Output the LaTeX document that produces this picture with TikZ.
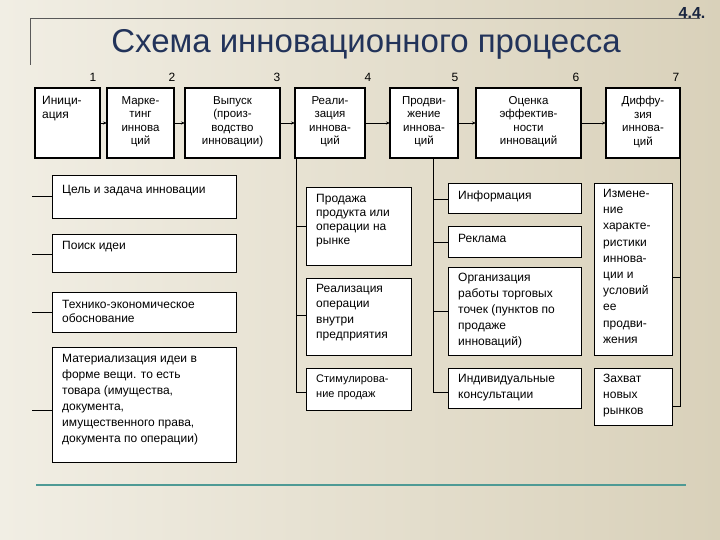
\documentclass[tikz,border=0pt]{standalone}
\usepackage{fontspec}
\setmainfont{Liberation Sans}
\usetikzlibrary{arrows.meta}
\definecolor{bgl}{HTML}{F1EEE4}
\definecolor{bgr}{HTML}{D9D1BA}
\definecolor{teal}{HTML}{4E9A95}
\definecolor{ttl}{HTML}{22335A}
\tikzset{
 box/.style={draw=black,fill=white,line width=0.8pt,inner sep=0pt,outer sep=0pt,anchor=north west},
 topbox/.style={box,line width=1.6pt},
 txt/.style={font=\fontsize{12}{14}\selectfont,inner sep=0pt,anchor=north west,align=left},
 ctxt/.style={font=\fontsize{11.5}{13.5}\selectfont,inner sep=0pt,align=center},
 num/.style={font=\fontsize{12}{14}\selectfont,inner sep=0pt},
 conn/.style={line width=0.6pt},
 arr/.style={line width=0.8pt,-{Stealth[length=4pt,width=3pt]}}
}
\newcommand{\bx}[6][box]{\node[#1,minimum width={(#5-#3)*1pt},minimum height={(#6-#4)*1pt}] (#2) at (#3,#4) {};}
\begin{document}
\begin{tikzpicture}[x=1pt,y=-1pt]
\shade[left color=bgl,right color=bgr] (0,0) rectangle (720,540);
\useasboundingbox (0,0) rectangle (720,540);
% frame
\draw[gray!70!black,line width=0.8pt] (30,65) -- (30,18) -- (700,18);
\node[font=\fontsize{33}{36}\selectfont,text=ttl] (title) at (366,44) {Схема инновационного процесса};
\node[font=\bfseries\fontsize{16}{18}\selectfont,text=ttl!70!black] (sec) at (692,13) {4.4.};
% top boxes
\bx[topbox]{b1}{35}{88}{100}{158}
\bx[topbox]{b2}{107}{88}{174}{158}
\bx[topbox]{b3}{185}{88}{280}{158}
\bx[topbox]{b4}{295}{88}{365}{158}
\bx[topbox]{b5}{390}{88}{458}{158}
\bx[topbox]{b6}{476}{88}{581}{158}
\bx[topbox]{b7}{606}{88}{680}{158}
\node[txt] (t1) at (42,96) {Иници-\\ация};
\node[ctxt,anchor=north] (t2) at (140.5,96) {Марке-\\тинг\\иннова\\ций};
\node[ctxt,anchor=north] (t3) at (232.5,96) {Выпуск\\(произ-\\водство\\инновации)};
\node[ctxt,anchor=north] (t4) at (330,96) {Реали-\\зация\\иннова-\\ций};
\node[ctxt,anchor=north] (t5) at (424,96) {Продви-\\жение\\иннова-\\ций};
\node[ctxt,anchor=north] (t6) at (528.5,96) {Оценка\\эффектив-\\ности\\инноваций};
\node[ctxt,anchor=north] (t7) at (643,96) {Диффу-\\зия\\иннова-\\ций};
\node[num] (n1) at (93,77) {1};
\node[num] (n2) at (172,77) {2};
\node[num] (n3) at (277,77) {3};
\node[num] (n4) at (368,77) {4};
\node[num] (n5) at (455,77) {5};
\node[num] (n6) at (576,77) {6};
\node[num] (n7) at (676,77) {7};
\draw[arr] (b1) -- (b2);
\draw[arr] (b2) -- (b3);
\draw[arr] (b3) -- (b4);
\draw[arr] (b4) -- (b5);
\draw[arr] (b5) -- (b6);
\draw[arr] (b6) -- (b7);
% left column
\bx{a}{52}{175}{236}{218}
\bx{b}{52}{234}{236}{272}
\bx{c}{52}{292}{236}{332}
\bx{d}{52}{347}{236}{462}
\node[txt] (ta) at (62,185) {Цель и задача инновации};
\node[txt] (tb) at (62,241) {Поиск идеи};
\node[txt] (tc) at (62,300) {Технико-экономическое\\обоснование};
\node[txt,font=\fontsize{12}{16}\selectfont] (td) at (62,354) {Материализация идеи в\\форме вещи. то есть\\товара (имущества,\\документа,\\имущественного права,\\документа по операции)};
\foreach \n/\y in {a/196,b/254,c/312,d/410}{
 \coordinate (s\n) at (32,\y);
 \draw[conn] (s\n) -- (s\n -| \n.west);
}
% column 4
\bx{e}{306}{187}{411}{265}
\bx{f}{306}{278}{411}{355}
\bx{g}{306}{368}{411}{410}
\node[txt] (te) at (316,194) {Продажа\\продукта или\\операции на\\рынке};
\node[txt,font=\fontsize{12}{15.5}\selectfont] (tf) at (316,284) {Реализация\\операции\\внутри\\предприятия};
\node[txt,font=\fontsize{11}{15}\selectfont] (tg) at (316,375) {Стимулирова-\\ние продаж};
\coordinate (v4) at (296,158);
\draw[conn] (v4) -- (v4 |- 0,392) -- (g.west |- 0,392);
\draw[conn] (v4 |- 0,226) -- (e.west |- 0,226);
\draw[conn] (v4 |- 0,315) -- (f.west |- 0,315);
% column 5
\bx{h}{448}{183}{581}{213}
\bx{i}{448}{226}{581}{257}
\bx{j}{448}{267}{581}{355}
\bx{k}{448}{368}{581}{408}
\node[txt] (th) at (458,191) {Информация};
\node[txt] (ti) at (458,234) {Реклама};
\node[txt,font=\fontsize{12}{16}\selectfont] (tj) at (458,273) {Организация\\работы торговых\\точек (пунктов по\\продаже\\инноваций)};
\node[txt,font=\fontsize{12}{16}\selectfont] (tk) at (458,374) {Индивидуальные\\консультации};
\coordinate (v5) at (433,158);
\draw[conn] (v5) -- (v5 |- 0,392) -- (k.west |- 0,392);
\foreach \n/\y in {h/199,i/242,j/311}{
 \draw[conn] (v5 |- 0,\y) -- (\n.west |- 0,\y);
}
% column 7
\bx{l}{594}{183}{672}{355}
\bx{m}{594}{368}{672}{425}
\node[txt,font=\fontsize{12}{16.2}\selectfont] (tl) at (603,189) {Измене-\\ние\\характе-\\ристики\\иннова-\\ции и\\условий\\ее\\продви-\\жения};
\node[txt,font=\fontsize{12}{16}\selectfont] (tm) at (603,374) {Захват\\новых\\рынков};
\coordinate (v7) at (680,158);
\draw[conn] (v7) -- (v7 |- 0,406) -- (m.east |- 0,406);
\draw[conn] (v7 |- 0,277) -- (l.east |- 0,277);
% bottom line
\draw[teal,line width=2.5pt] (36,485) -- (686,485);
\end{tikzpicture}
\end{document}
